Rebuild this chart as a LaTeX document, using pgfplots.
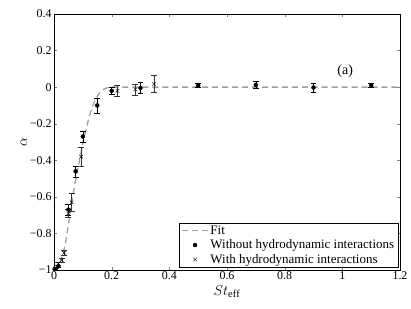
\documentclass[border=0pt]{standalone}
\usepackage{fontspec}
\setmainfont{Liberation Serif}
\usepackage{pgfplots}
\pgfplotsset{compat=1.18}
\begin{document}
\begin{tikzpicture}
\begin{axis}[
  scale only axis, width=346bp, height=256bp,
  xmin=0, xmax=1.2, ymin=-1, ymax=0.4,
  xtick={0,0.2,0.4,0.6,0.8,1,1.2},
  xticklabels={0,0.2,0.4,0.6,0.8,1,1.2},
  ytick={-1,-0.8,-0.6,-0.4,-0.2,0,0.2,0.4},
  yticklabels={−1,−0.8,−0.6,−0.4,−0.2,0,0.2,0.4},
  tick align=inside, tick pos=both,
  major tick length=3bp,
  tick label style={font=\fontsize{12}{13}\selectfont},
  xticklabel style={yshift=2bp},
  yticklabel style={xshift=1bp},
  axis line style={black, line width=0.5pt},
  xlabel={$St_{\mathrm{eff}}$}, ylabel={$\alpha$},
  xlabel style={font=\fontsize{15}{16}\selectfont, yshift=1bp},
  ylabel style={font=\fontsize{15}{16}\selectfont, yshift=-4bp},
  legend style={font=\fontsize{13}{15}\selectfont, draw=black, line width=0.4pt,
    inner xsep=2pt, inner ysep=0.5pt, row sep=0pt,
    at={(0.995,0.01)}, anchor=south east},
  legend cell align=left,
  legend image code/.code={
    \draw[mark repeat=2,mark phase=2,#1] plot coordinates {(0cm,0cm) (0.45cm,0cm) (0.9cm,0cm)};},
]
\addplot[gray!75, line width=1.3pt, dash pattern=on 6pt off 4pt] coordinates {
(0,-1) (0.01,-0.985) (0.02,-0.96) (0.03,-0.92) (0.04,-0.85) (0.05,-0.75)
(0.06,-0.645) (0.07,-0.55) (0.08,-0.465) (0.09,-0.39) (0.10,-0.31)
(0.11,-0.24) (0.12,-0.175) (0.13,-0.12) (0.14,-0.08) (0.15,-0.05)
(0.16,-0.028) (0.17,-0.014) (0.18,-0.006) (0.19,-0.002) (0.2,0) (1.2,0)};
\addlegendentry{Fit}
\addplot[only marks, mark=*, mark size=2pt, black,
  error bars/.cd, y dir=both, y explicit, error bar style={black, line width=0.4pt},
  error mark options={rotate=90, mark size=3pt, black}]
  table[x=x, y=y, y error=e] {
x y e
0.002 -0.995 0.004
0.015 -0.98 0.006
0.05 -0.67 0.03
0.075 -0.46 0.03
0.1 -0.27 0.03
0.15 -0.10 0.04
0.2 -0.02 0.02
0.3 -0.005 0.03
0.5 0.01 0.012
0.7 0.012 0.02
0.9 -0.002 0.025
1.1 0.01 0.01
};
\addlegendentry{Without hydrodynamic interactions}
\addplot[only marks, mark=x, mark size=2.5pt, black,
  error bars/.cd, y dir=both, y explicit, error bar style={black!80, line width=0.4pt},
  error mark options={rotate=90, mark size=3pt, black!80}]
  table[x=x, y=y, y error=e] {
x y e
0.005 -0.99 0.005
0.015 -0.965 0.008
0.027 -0.946 0.01
0.035 -0.906 0.015
0.05 -0.69 0.02
0.061 -0.63 0.05
0.094 -0.38 0.05
0.22 -0.02 0.03
0.282 -0.013 0.03
0.347 0.018 0.045
};
\addlegendentry{With hydrodynamic interactions}
\node[font=\fontsize{14}{16}\selectfont] at (axis cs:1.01,0.085) {(a)};
\end{axis}
\pgfresetboundingbox
\path (current axis.south west) ++(-54bp,-39bp) coordinate (bl);
\path (current axis.north east) ++(11bp,14bp) coordinate (tr);
\path[use as bounding box] (bl) rectangle (tr);
\end{tikzpicture}
\end{document}
